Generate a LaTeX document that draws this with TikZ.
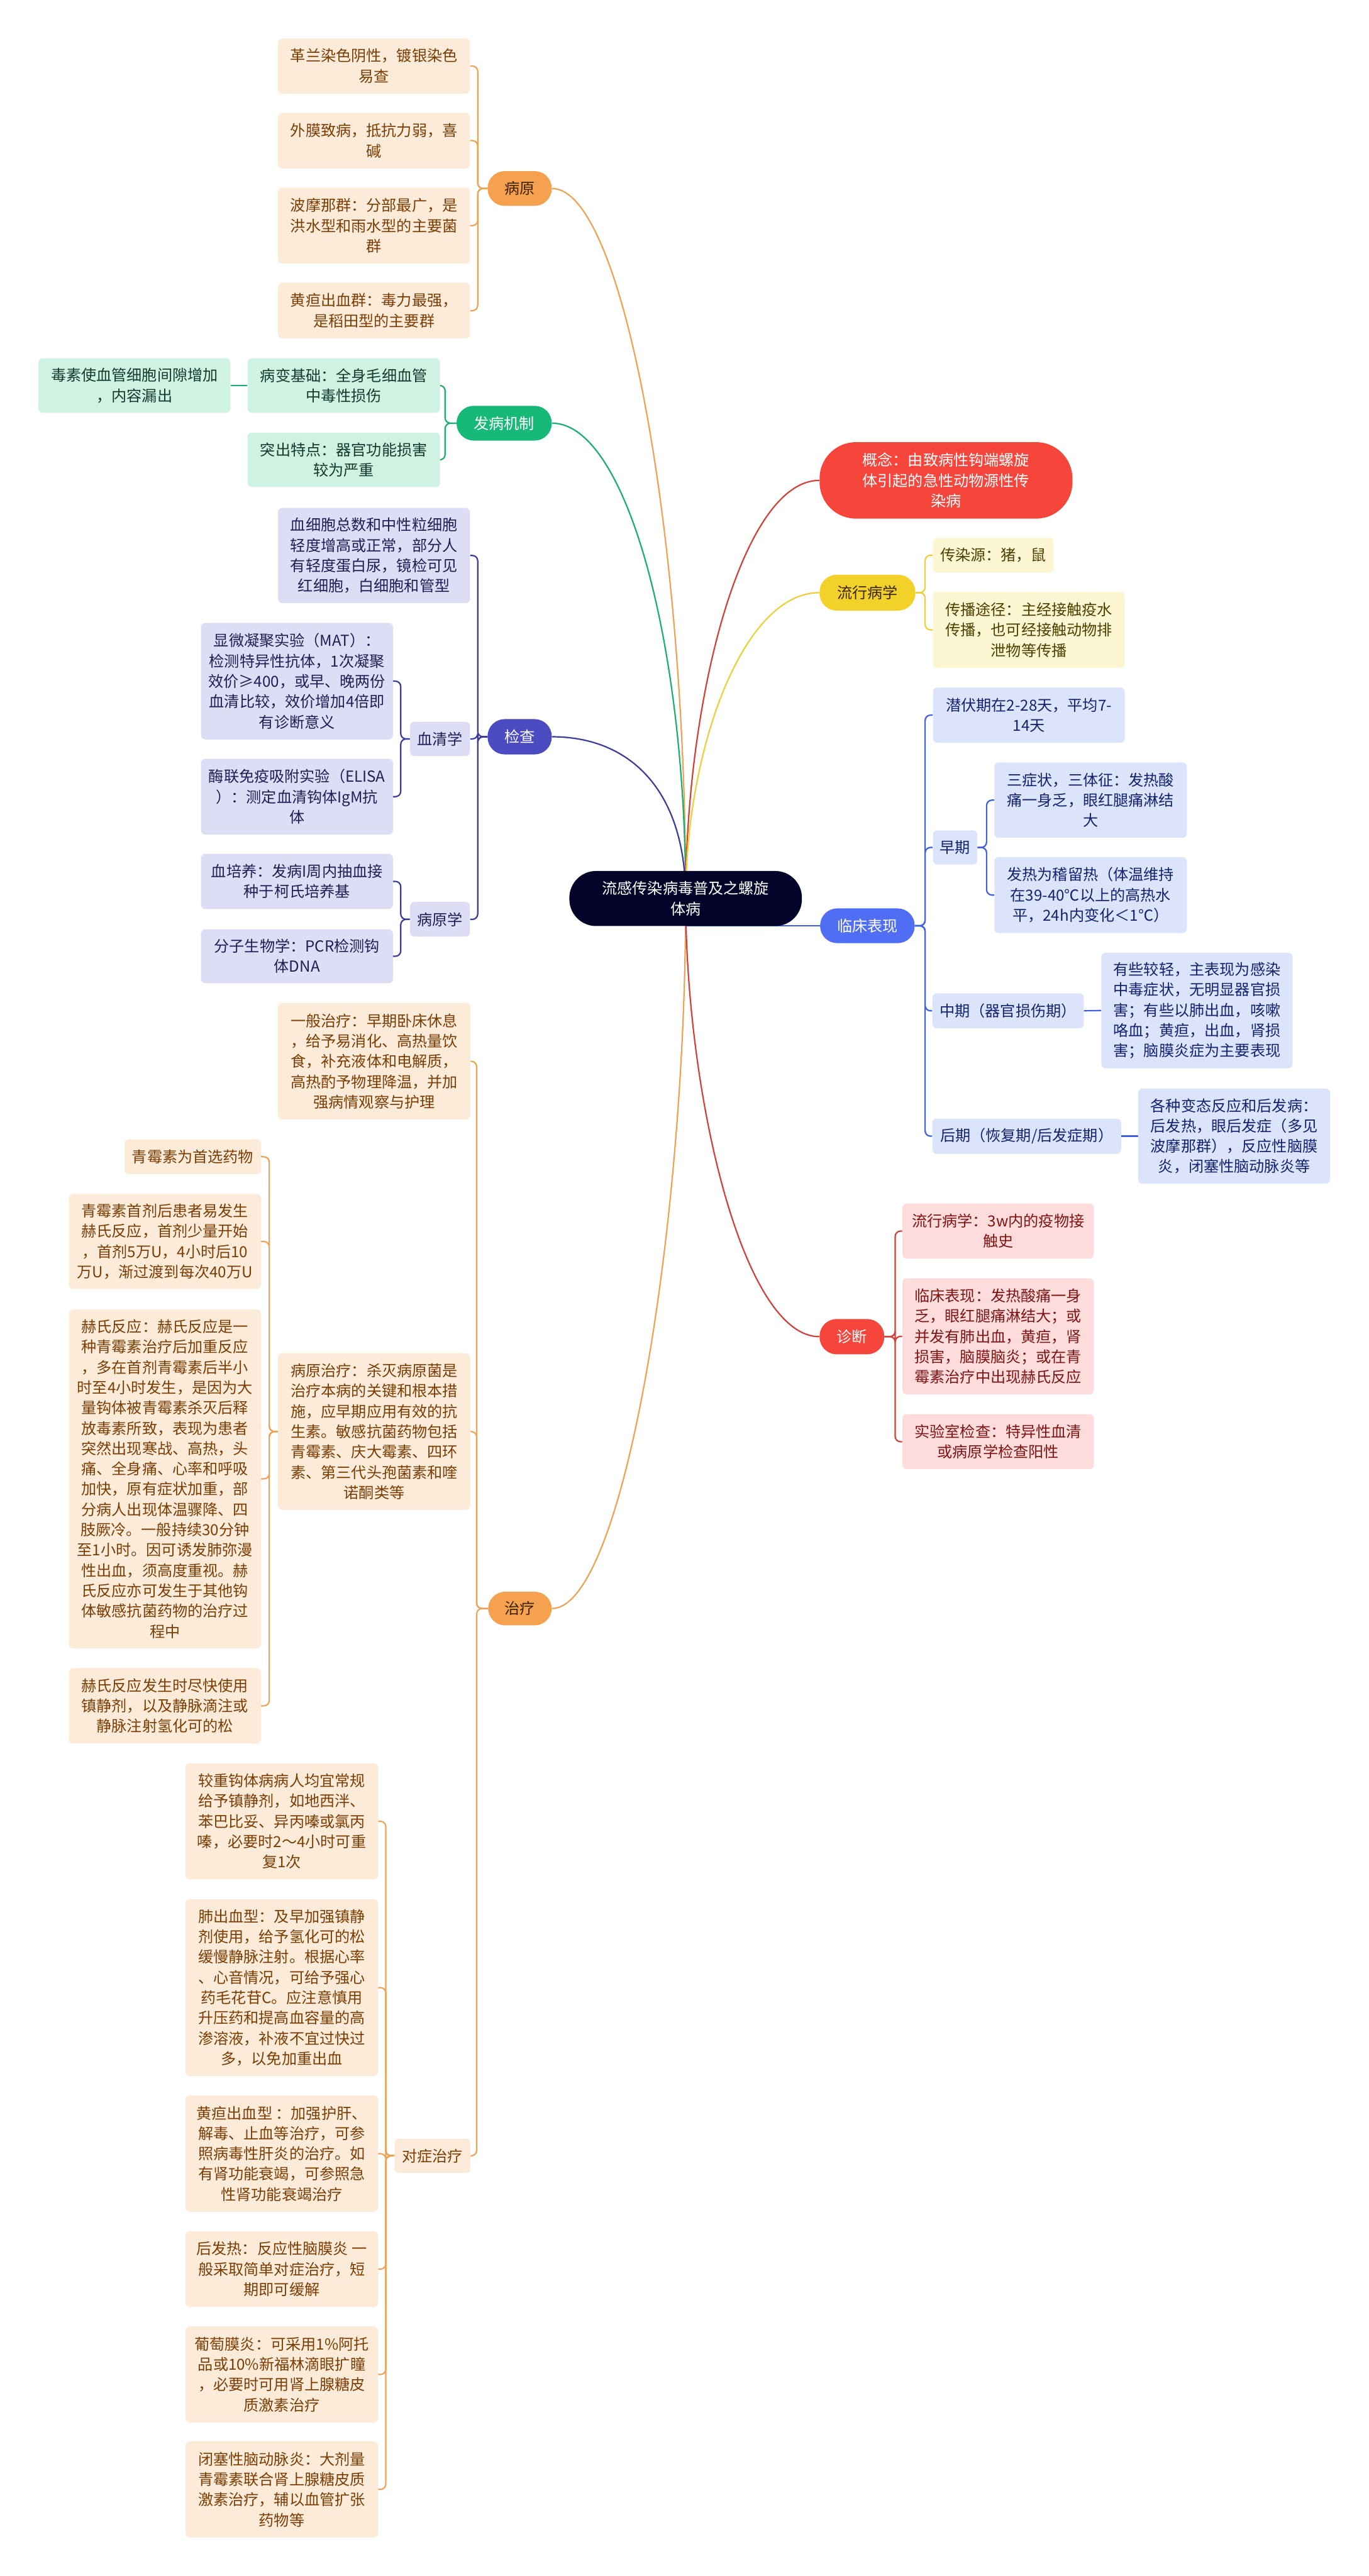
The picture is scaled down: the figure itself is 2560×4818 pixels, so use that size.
\documentclass[tikz,border=0pt]{standalone}
\usepackage{fontspec}
\setmainfont{Noto Sans CJK SC}
\pgfdeclarelayer{background}
\pgfsetlayers{background,main}
\definecolor{orfill}{HTML}{F5A14F}
\definecolor{orline}{HTML}{EDA356}
\definecolor{orbox}{HTML}{FDEBDA}
\definecolor{ortext}{HTML}{7A3E05}
\definecolor{ormain}{HTML}{3B2306}
\definecolor{grfill}{HTML}{17B978}
\definecolor{grline}{HTML}{1AAE74}
\definecolor{grbox}{HTML}{CFF2E3}
\definecolor{grtext}{HTML}{123B2C}
\definecolor{pufill}{HTML}{4B4BC2}
\definecolor{puline}{HTML}{3B3B9E}
\definecolor{pubox}{HTML}{DDDDF5}
\definecolor{putext}{HTML}{1F1F55}
\definecolor{rdfill}{HTML}{F6453B}
\definecolor{rdline}{HTML}{D2403A}
\definecolor{rdbox}{HTML}{FDDCDB}
\definecolor{rdtext}{HTML}{7D1515}
\definecolor{ylfill}{HTML}{F2D229}
\definecolor{ylline}{HTML}{EDCF3A}
\definecolor{ylbox}{HTML}{FDF6D2}
\definecolor{yltext}{HTML}{4D3F00}
\definecolor{blfill}{HTML}{4F6EF3}
\definecolor{blline}{HTML}{3F5FE0}
\definecolor{blbox}{HTML}{DCE4FC}
\definecolor{bltext}{HTML}{13236E}
\definecolor{rootfill}{HTML}{03032A}
\newcommand\bn[6]{\node[#1, minimum width={(#4-#3)*0.5pt}, minimum height={(#6-#5)*0.5pt}] (#2) at ({(#3+#4)/2},{(#5+#6)/2})}
\tikzset{
  base/.style={inner sep=0pt, align=center, font=\fontsize{14.2pt}{19pt}\selectfont},
  sub/.style={base, rounded corners=4pt},
  mainb/.style={base, rounded corners=16pt},
  rootst/.style={base, rounded corners=25pt, fill=rootfill, text=white},
  mor/.style={mainb, fill=orfill, text=ormain},
  mgr/.style={mainb, fill=grfill, text=white},
  mpu/.style={mainb, fill=pufill, text=white},
  mrd/.style={mainb, fill=rdfill, text=white},
  mrdbig/.style={base, rounded corners=34pt, fill=rdfill, text=white},
  myl/.style={mainb, fill=ylfill, text=ormain},
  mbl/.style={mainb, fill=blfill, text=white},
  sor/.style={sub, fill=orbox, text=ortext},
  sgr/.style={sub, fill=grbox, text=grtext},
  spu/.style={sub, fill=pubox, text=putext},
  srd/.style={sub, fill=rdbox, text=rdtext},
  syl/.style={sub, fill=ylbox, text=yltext},
  sbl/.style={sub, fill=blbox, text=bltext},
  edge/.style={line width=1.3pt, rounded corners=5pt},
  eor/.style={edge, draw=orline},
  egr/.style={edge, draw=grline},
  epu/.style={edge, draw=puline},
  erd/.style={edge, draw=rdline},
  eyl/.style={edge, draw=ylline},
  ebl/.style={edge, draw=blline}
}
\begin{document}
\begin{tikzpicture}[x=0.5pt,y=-0.5pt]
\useasboundingbox (0,0) rectangle (2560,4818);
% root
\bn{rootst}{root}{1065}{1500}{1629}{1732}{流感传染病毒普及之螺旋\\体病};
% main branches
\bn{mor}{by}{912}{1032}{320}{385}{病原};
\bn{mgr}{fb}{854}{1032}{759}{824}{发病机制};
\bn{mpu}{jc}{912}{1032}{1345}{1411}{检查};
\bn{mor}{zl}{913}{1032}{2977}{3040}{治疗};
\bn{mrdbig}{gn}{1533}{2006}{827}{970}{概念：由致病性钩端螺旋\\体引起的急性动物源性传\\染病};
\bn{myl}{lx}{1533}{1712}{1075}{1142}{流行病学};
\bn{mbl}{lc}{1534}{1711}{1699}{1764}{临床表现};
\bn{mrd}{zd}{1533}{1654}{2467}{2533}{诊断};
% 病原
\bn{sor}{by1}{520}{879}{72}{175}{革兰染色阴性，镀银染色\\易查};
\bn{sor}{by2}{520}{879}{211}{315}{外膜致病，抵抗力弱，喜\\碱};
\bn{sor}{by3}{520}{879}{351}{493}{波摩那群：分部最广，是\\洪水型和雨水型的主要菌\\群};
\bn{sor}{by4}{520}{879}{529}{633}{黄疸出血群：毒力最强，\\是稻田型的主要群};
% 发病机制
\bn{sgr}{fb1}{463}{823}{670}{772}{病变基础：全身毛细血管\\中毒性损伤};
\bn{sgr}{fb2}{463}{823}{809}{911}{突出特点：器官功能损害\\较为严重};
\bn{sgr}{fb11}{72}{431}{670}{772}{毒素使血管细胞间隙增加\\，内容漏出};
% 检查
\bn{spu}{jc1}{520}{879}{950}{1128}{血细胞总数和中性粒细胞\\轻度增高或正常，部分人\\有轻度蛋白尿，镜检可见\\红细胞，白细胞和管型};
\bn{spu}{jc2}{767}{879}{1350}{1414}{血清学};
\bn{spu}{jc3}{767}{879}{1687}{1752}{病原学};
\bn{spu}{jc21}{376}{735}{1165}{1383}{显微凝聚实验（MAT）：\\检测特异性抗体，1次凝聚\\效价≥400，或早、晚两份\\血清比较，效价增加4倍即\\有诊断意义};
\bn{spu}{jc22}{376}{735}{1419}{1561}{酶联免疫吸附实验（ELISA\\）：测定血清钩体IgM抗\\体};
\bn{spu}{jc31}{376}{735}{1597}{1700}{血培养：发病I周内抽血接\\种于柯氏培养基};
\bn{spu}{jc32}{376}{735}{1738}{1839}{分子生物学：PCR检测钩\\体DNA};
% 治疗
\bn{sor}{zl1}{520}{880}{1876}{2094}{一般治疗：早期卧床休息\\，给予易消化、高热量饮\\食，补充液体和电解质，\\高热酌予物理降温，并加\\强病情观察与护理};
\bn{sor}{zl2}{520}{880}{2531}{2824}{病原治疗：杀灭病原菌是\\治疗本病的关键和根本措\\施，应早期应用有效的抗\\生素。敏感抗菌药物包括\\青霉素、庆大霉素、四环\\素、第三代头孢菌素和喹\\诺酮类等};
\bn{sor}{zl3}{738}{880}{4000}{4064}{对症治疗};
\bn{sor}{zl21}{233}{488}{2131}{2196}{青霉素为首选药物};
\bn{sor}{zl22}{129}{488}{2233}{2411}{青霉素首剂后患者易发生\\赫氏反应，首剂少量开始\\，首剂5万U，4小时后10\\万U，渐过渡到每次40万U};
\bn{sor}{zl23}{129}{488}{2449}{3083}{赫氏反应：赫氏反应是一\\种青霉素治疗后加重反应\\，多在首剂青霉素后半小\\时至4小时发生，是因为大\\量钩体被青霉素杀灭后释\\放毒素所致，表现为患者\\突然出现寒战、高热，头\\痛、全身痛、心率和呼吸\\加快，原有症状加重，部\\分病人出现体温骤降、四\\肢厥冷。一般持续30分钟\\至1小时。因可诱发肺弥漫\\性出血，须高度重视。赫\\氏反应亦可发生于其他钩\\体敏感抗菌药物的治疗过\\程中};
\bn{sor}{zl24}{129}{488}{3120}{3261}{赫氏反应发生时尽快使用\\镇静剂，以及静脉滴注或\\静脉注射氢化可的松};
\bn{sor}{zl31}{347}{707}{3298}{3515}{较重钩体病病人均宜常规\\给予镇静剂，如地西泮、\\苯巴比妥、异丙嗪或氯丙\\嗪，必要时2～4小时可重\\复1次};
\bn{sor}{zl32}{347}{707}{3552}{3883}{肺出血型：及早加强镇静\\剂使用，给予氢化可的松\\缓慢静脉注射。根据心率\\、心音情况，可给予强心\\药毛花苷C。应注意慎用\\升压药和提高血容量的高\\渗溶液，补液不宜过快过\\多，以免加重出血};
\bn{sor}{zl33}{347}{707}{3919}{4137}{黄疸出血型 ：加强护肝、\\解毒、止血等治疗，可参\\照病毒性肝炎的治疗。如\\有肾功能衰竭，可参照急\\性肾功能衰竭治疗};
\bn{sor}{zl34}{347}{707}{4173}{4315}{后发热：反应性脑膜炎 一\\般采取简单对症治疗，短\\期即可缓解};
\bn{sor}{zl35}{347}{707}{4351}{4531}{葡萄膜炎：可采用1\%阿托\\品或10\%新福林滴眼扩瞳\\，必要时可用肾上腺糖皮\\质激素治疗};
\bn{sor}{zl36}{347}{707}{4566}{4746}{闭塞性脑动脉炎：大剂量\\青霉素联合肾上腺糖皮质\\激素治疗，辅以血管扩张\\药物等};
% 流行病学
\bn{syl}{lx1}{1745}{1971}{1006}{1071}{传染源：猪，鼠};
\bn{syl}{lx2}{1745}{2104}{1107}{1249}{传播途径：主经接触疫水\\传播，也可经接触动物排\\泄物等传播};
% 临床表现
\bn{sbl}{lc1}{1745}{2104}{1286}{1389}{潜伏期在2-28天，平均7-\\14天};
\bn{sbl}{lc2}{1745}{1828}{1553}{1617}{早期};
\bn{sbl}{lc21}{1860}{2220}{1426}{1567}{三症状，三体征：发热酸\\痛一身乏，眼红腿痛淋结\\大};
\bn{sbl}{lc22}{1860}{2220}{1603}{1745}{发热为稽留热（体温维持\\在39-40℃以上的高热水\\平，24h内变化＜1℃）};
\bn{sbl}{lc3}{1744}{2027}{1858}{1923}{中期（器官损伤期）};
\bn{sbl}{lc31}{2060}{2418}{1782}{1998}{有些较轻，主表现为感染\\中毒症状，无明显器官损\\害；有些以肺出血，咳嗽\\咯血；黄疸，出血，肾损\\害；脑膜炎症为主要表现};
\bn{sbl}{lc4}{1744}{2097}{2092}{2158}{后期（恢复期/后发症期）};
\bn{sbl}{lc41}{2129}{2488}{2036}{2214}{各种变态反应和后发病：\\后发热，眼后发症（多见\\波摩那群），反应性脑膜\\炎，闭塞性脑动脉炎等};
% 诊断
\bn{srd}{zd1}{1688}{2046}{2251}{2354}{流行病学：3w内的疫物接\\触史};
\bn{srd}{zd2}{1688}{2046}{2391}{2608}{临床表现：发热酸痛一身\\乏，眼红腿痛淋结大；或\\并发有肺出血，黄疸，肾\\损害，脑膜脑炎；或在青\\霉素治疗中出现赫氏反应};
\bn{srd}{zd3}{1688}{2046}{2645}{2748}{实验室检查：特异性血清\\或病原学检查阳性};

\begin{pgfonlayer}{background}
% main curves
\draw[eor] (by.east) .. controls (1165,352) and (1283,1000) .. (root.center);
\draw[egr] (fb.east) .. controls (1170,791) and (1283,1200) .. (root.center);
\draw[epu] (jc.east) .. controls (1180,1378) and (1283,1480) .. (root.center);
\draw[eor] (zl.east) .. controls (1165,3008) and (1283,2300) .. (root.center);
\draw[erd] (gn.west) .. controls (1390,898) and (1283,1300) .. (root.center);
\draw[eyl] (lx.west) .. controls (1390,1108) and (1283,1400) .. (root.center);
\draw[ebl] (lc.west) -- (lc.west -| root.center);
\draw[erd] (zd.west) .. controls (1390,2500) and (1283,2050) .. (root.center);
% 病原
\foreach \c in {by1,by2,by3,by4} \draw[eor] (by.west) -- ++(-18,0) |- (\c.east);
% 发病机制
\foreach \c in {fb1,fb2} \draw[egr] (fb.west) -- ++(-21,0) |- (\c.east);
\draw[egr] (fb1.west) -- (fb11.east);
% 检查
\foreach \c in {jc1,jc2,jc3} \draw[epu] (jc.west) -- ++(-18,0) |- (\c.east);
\foreach \c in {jc21,jc22} \draw[epu] (jc2.west) -- ++(-17,0) |- (\c.east);
\foreach \c in {jc31,jc32} \draw[epu] (jc3.west) -- ++(-17,0) |- (\c.east);
% 治疗
\foreach \c in {zl1,zl2,zl3} \draw[eor] (zl.west) -- ++(-21,0) |- (\c.east);
\foreach \c in {zl21,zl22,zl23,zl24} \draw[eor] (zl2.west) -- ++(-16,0) |- (\c.east);
\foreach \c in {zl31,zl32,zl33,zl34,zl35,zl36} \draw[eor] (zl3.west) -- ++(-16,0) |- (\c.east);
% 流行病学
\foreach \c in {lx1,lx2} \draw[eyl] (lx.east) -- ++(18,0) |- (\c.west);
% 临床表现
\foreach \c in {lc1,lc2,lc3,lc4} \draw[ebl] (lc.east) -- ++(19,0) |- (\c.west);
\foreach \c in {lc21,lc22} \draw[ebl] (lc2.east) -- ++(17,0) |- (\c.west);
\draw[ebl] (lc3.east) -- (lc31.west);
\draw[ebl] (lc4.east) -- (lc41.west);
% 诊断
\foreach \c in {zd1,zd2,zd3} \draw[erd] (zd.east) -- ++(20,0) |- (\c.west);
\end{pgfonlayer}
\end{tikzpicture}
\end{document}
